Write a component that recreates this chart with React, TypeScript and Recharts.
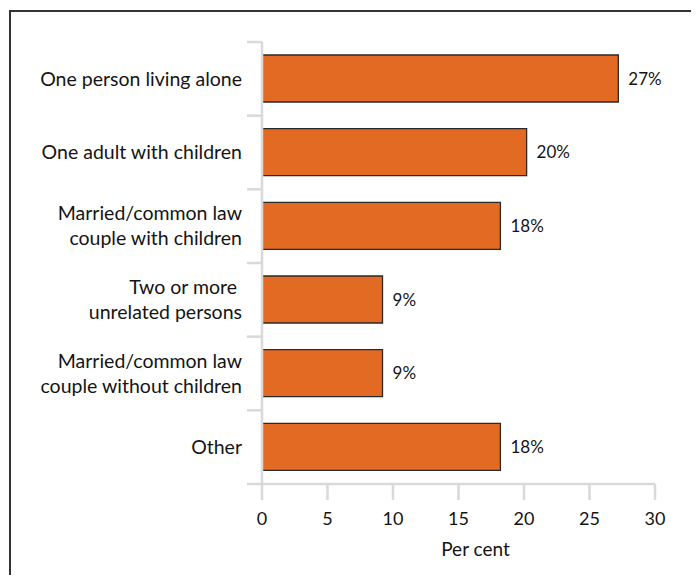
import React from 'react';
import { BarChart, Bar, XAxis, YAxis, LabelList, Label } from 'recharts';

const categories = [
  'One person living alone',
  'One adult with children',
  'Married/common law\ncouple with children',
  'Two or more \nunrelated persons',
  'Married/common law\ncouple without children',
  'Other',
];
const percentValues = [27.2, 20.2, 18.2, 9.2, 9.2, 18.2];
const xTicks = [0, 5, 10, 15, 20, 25, 30];

const data = categories.map((c, i) => ({ category: c, value: percentValues[i] }));

const W = 683;
const H = 567;
const M = { top: 34, right: 36, bottom: 0, left: 0 };
const Y_W = 254;
const X_H = 91;
const plotH = H - M.top - M.bottom - X_H;
const band = plotH / categories.length;

const FONT = 'Lato, "Open Sans", sans-serif';
const AXIS = '#d9d9d9';
const TEXT = '#141414';
const FRAME = '#333';
const TICK_SIZE = 15;
const TICK_MARGIN = 5;

const CategoryTick = (props: any) => {
  const { x, y, payload, index } = props;
  const lines = String(payload.value).split('\n');
  const axisX = x + TICK_SIZE + TICK_MARGIN;
  const lineH = 25;
  const fs = 19.5;
  const firstDy = -((lines.length - 1) * lineH) / 2 + fs * 0.35;
  return (
    <g>
      <line x1={axisX - TICK_SIZE} x2={axisX} y1={y - band / 2} y2={y - band / 2} stroke={AXIS} strokeWidth={2.5} />
      {index === categories.length - 1 && (
        <line x1={axisX - TICK_SIZE} x2={axisX} y1={y + band / 2} y2={y + band / 2} stroke={AXIS} strokeWidth={2.5} />
      )}
      <text x={x} y={y} textAnchor="end" fontFamily={FONT} fontSize={fs} fill={TEXT} xmlSpace="preserve">
        {lines.map((l, i) => (
          <tspan key={i} x={x} dy={i === 0 ? firstDy : lineH} xmlSpace="preserve">
            {l}
          </tspan>
        ))}
      </text>
    </g>
  );
};

export default function App() {
  return (
    <div style={{ position: 'relative', width: W, height: H }}>
      <div style={{ position: 'absolute', left: 1, top: 2, width: 690, height: 2, background: FRAME }} />
      <div style={{ position: 'absolute', left: 1, top: 2, width: 2, height: 573, background: FRAME }} />
      <div style={{ position: 'absolute', left: 0, top: 0 }}>
        <BarChart
          width={W}
          height={H}
          data={data}
          layout="vertical"
          margin={M}
          accessibilityLayer={false}
          style={{ outline: 'none' }}
        >
          <XAxis
            type="number"
            domain={[0, 30]}
            ticks={xTicks}
            interval={0}
            height={X_H}
            tickSize={16}
            tickMargin={12}
            axisLine={{ stroke: AXIS, strokeWidth: 2.5 }}
            tickLine={{ stroke: AXIS, strokeWidth: 2.5 }}
            tick={{ fontSize: 18, fill: TEXT, fontFamily: FONT }}
          >
            <Label
              value="Per cent"
              position="insideBottom"
              offset={19}
              dx={17}
              fontSize={19}
              fill={TEXT}
              fontFamily={FONT}
            />
          </XAxis>
          <YAxis
            type="category"
            dataKey="category"
            width={Y_W}
            interval={0}
            tickLine={false}
            tickSize={TICK_SIZE}
            tickMargin={TICK_MARGIN}
            axisLine={{ stroke: AXIS, strokeWidth: 2.5 }}
            tick={<CategoryTick />}
          />
          <Bar dataKey="value" fill="#E36A22" stroke="#2a2a2a" strokeWidth={1.3} barSize={47} isAnimationActive={false}>
            <LabelList
              dataKey="value"
              position="right"
              offset={10}
              formatter={(v: any) => `${Math.round(Number(v))}%`}
              fontSize={17}
              fill={TEXT}
              fontFamily={FONT}
            />
          </Bar>
        </BarChart>
      </div>
    </div>
  );
}
